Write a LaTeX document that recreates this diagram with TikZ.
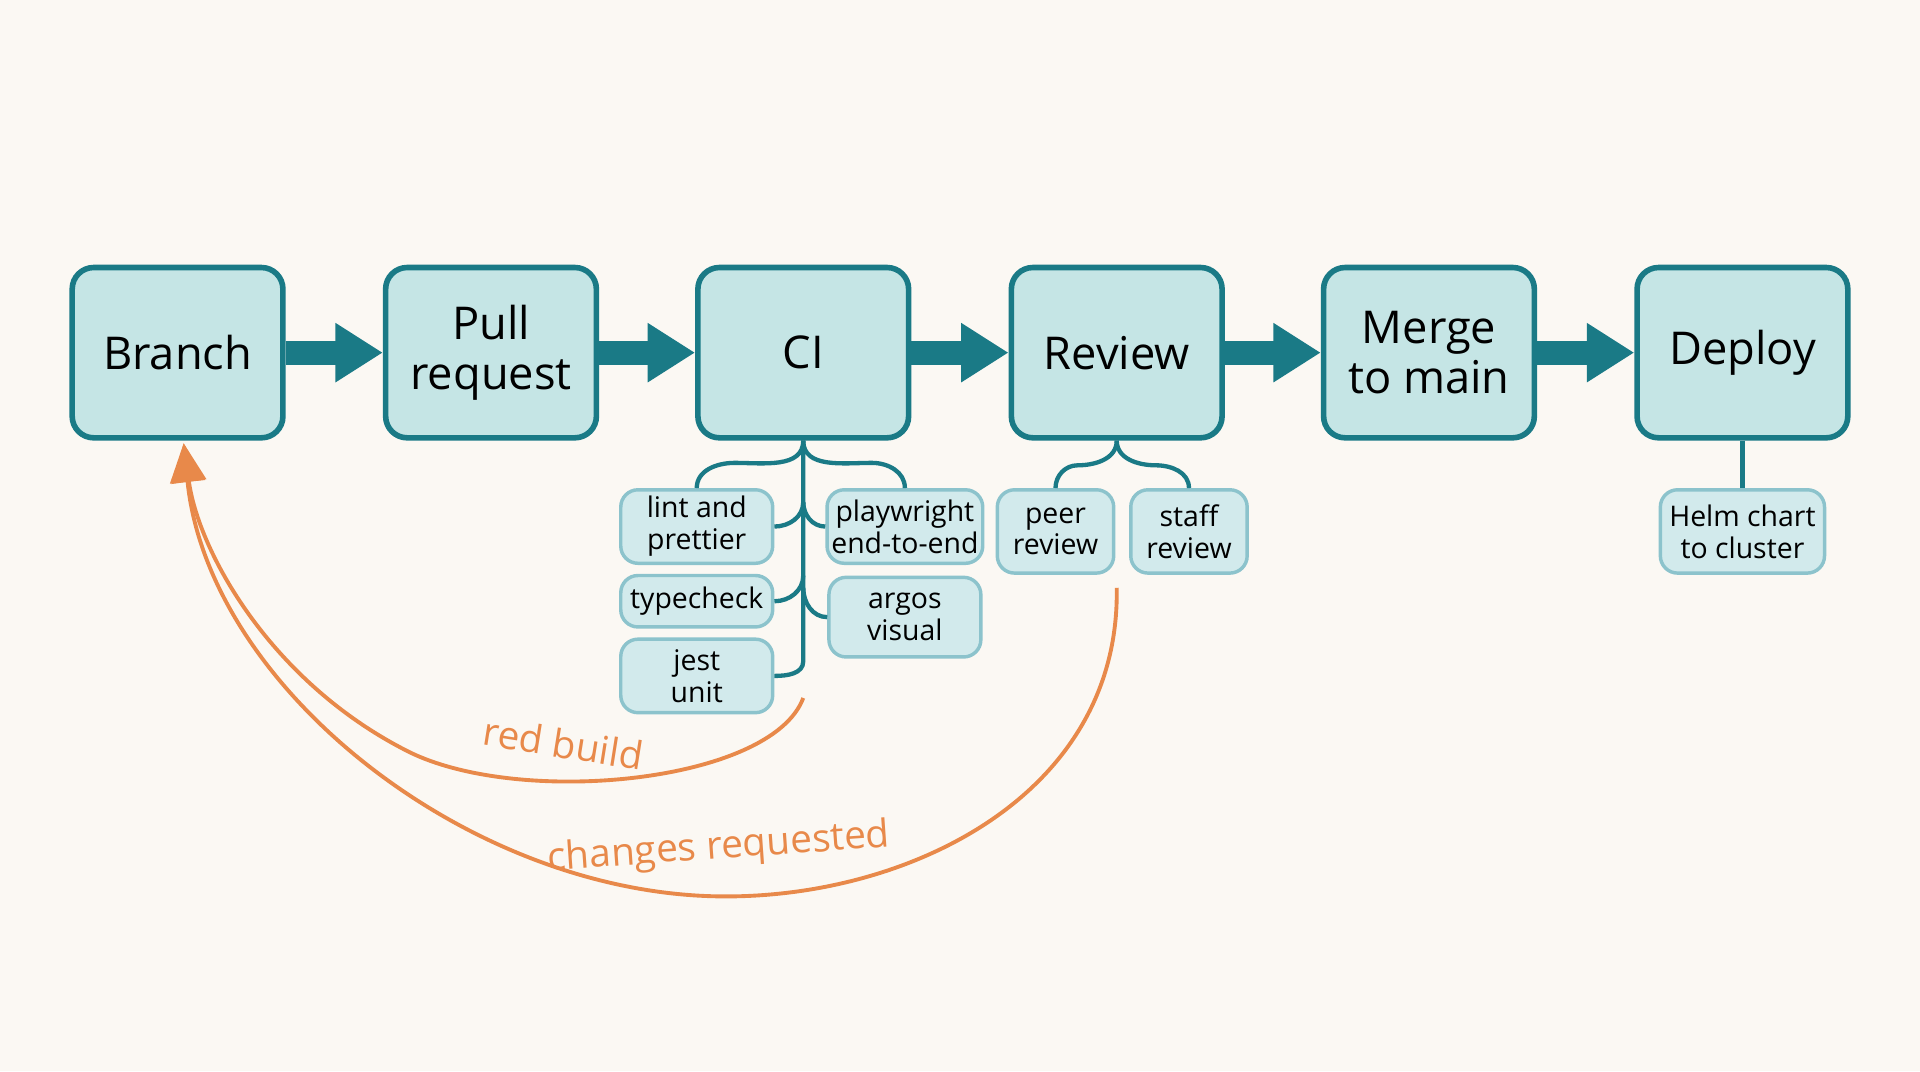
\documentclass[tikz,border=0pt]{standalone}
\usepackage{fontspec}
\setmainfont{Open Sans}
\usetikzlibrary{arrows.meta,positioning}
\definecolor{bgc}{HTML}{FBF8F3}
\definecolor{tealdark}{HTML}{1A7A86}
\definecolor{tealfill}{HTML}{C5E5E5}
\definecolor{subfill}{HTML}{D2EAEC}
\definecolor{subline}{HTML}{8CC3CC}
\definecolor{orng}{HTML}{E8894A}
\tikzset{
  stage/.style={draw=tealdark, line width=1.3pt, fill=tealfill, rounded corners=5pt,
    minimum width=1.72cm, minimum height=1.39cm, align=center, font=\fontsize{10.5}{11.5}\selectfont},
  check/.style={draw=subline, line width=0.8pt, fill=subfill, rounded corners=4pt,
    minimum width=1.24cm, align=center, inner sep=1pt, font=\fontsize{6.6}{7.4}\selectfont},
  flow/.style={draw=tealdark, line width=5.5pt, -{Triangle[width=13pt,length=11pt]}},
  tree/.style={draw=tealdark, line width=1pt},
  back/.style={draw=orng, line width=0.9pt, -{Triangle[width=8pt,length=9pt]}},
  backlbl/.style={text=orng, font=\fontsize{9}{10}\selectfont}
}
\begin{document}
\begin{tikzpicture}[x=0.01cm,y=-0.01cm]
  \fill[bgc] (0,0) rectangle (1568,875);
  \useasboundingbox (0,0) rectangle (1568,875);

  % main stages
  \node[stage] (branch) at (145,288) {Branch};
  \node[stage] (pr) at (401,288) {Pull\\request};
  \node[stage] (ci) at (656,288) {CI};
  \node[stage] (review) at (912,288) {Review};
  \node[stage] (merge) at (1167,288) {Merge\\to main};
  \node[stage] (deploy) at (1423,288) {Deploy};

  \draw[flow] (branch) -- (pr);
  \draw[flow] (pr) -- (ci);
  \draw[flow] (ci) -- (review);
  \draw[flow] (review) -- (merge);
  \draw[flow] (merge) -- (deploy);

  % CI checks
  \node[check, minimum height=0.6cm] (lint) at (569,430) {lint and\\prettier};
  \node[check, minimum height=0.42cm] (type) at (569,491) {typecheck};
  \node[check, minimum height=0.6cm] (jest) at (569,552) {jest\\unit};
  \node[check, minimum height=0.6cm] (play) at (739,430) {playwright\\end-to-end};
  \node[check, minimum height=0.65cm] (argos) at (739,504) {argos\\visual};

  \coordinate (trunk) at (656,540);
  \draw[tree] (ci.south) -- (trunk) to[out=-90,in=0] (jest.east);
  \draw[tree] (ci.south) to[out=-90,in=0] (600,378) to[out=180,in=90] (lint.north);
  \draw[tree] (ci.south) to[out=-90,in=180] (712,378) to[out=0,in=90] (play.north);
  \draw[tree] (656,410) to[out=-90,in=0] (lint.east);
  \draw[tree] (656,470) to[out=-90,in=0] (type.east);
  \draw[tree] (656,410) to[out=-90,in=180] (play.west);
  \draw[tree] (656,480) to[out=-90,in=180] (argos.west);

  % review checks
  \node[check, minimum width=0.95cm, minimum height=0.68cm] (peer) at (862,434) {peer\\review};
  \node[check, minimum width=0.95cm, minimum height=0.68cm] (staff) at (971,434) {staff\\review};
  \draw[tree] (review.south) to[out=-90,in=0] (880,380) to[out=180,in=90] (peer.north);
  \draw[tree] (review.south) to[out=-90,in=180] (944,380) to[out=0,in=90] (staff.north);

  % deploy step
  \node[check, minimum width=1.34cm, minimum height=0.68cm] (helm) at (1423,434) {Helm chart\\to cluster};
  \draw[tree] (deploy) -- (helm);

  % feedback loops
  \coordinate (redstart) at (656,570);
  \coordinate (chgstart) at (912,480);
  \coordinate (tip) at (150,362);
  \draw[back] (redstart) .. controls (630,640) and (420,660) .. (330,612)
    .. controls (220,555) and (162,450) .. (tip);
  \draw[back] (chgstart) .. controls (915,650) and (740,735) .. (585,732)
    .. controls (380,728) and (170,560) .. (tip);
  \node[backlbl, rotate=-9] (redlbl) at (460,607) {red build};
  \node[backlbl, rotate=4] (chglbl) at (587,693) {changes requested};
\end{tikzpicture}
\end{document}
